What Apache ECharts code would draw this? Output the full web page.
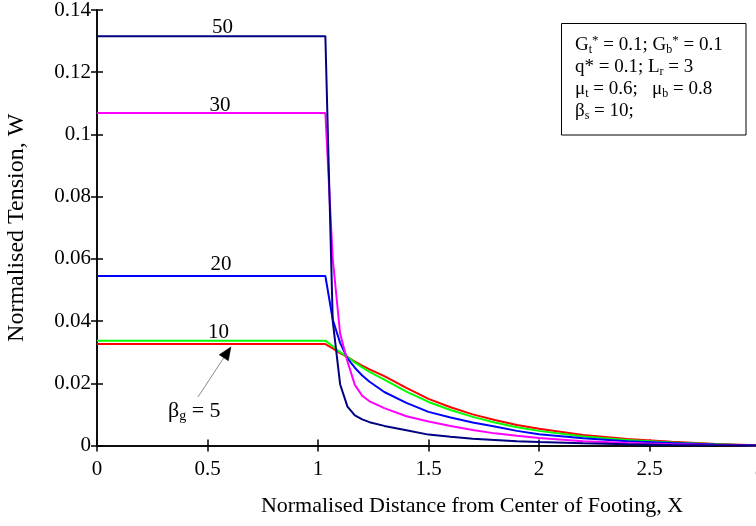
<!DOCTYPE html>
<html>
<head>
<meta charset="utf-8">
<script src="https://cdn.jsdelivr.net/npm/echarts@6/dist/echarts.min.js"></script>
<style>
  html, body { margin: 0; padding: 0; background: #fff; }
  #chart { width: 756px; height: 526px; }
</style>
</head>
<body>
<div id="chart"></div>
<script>
// Normalised distance X at which tension W is sampled (shared by every curve)
const distanceX = [0, 1.0333, 1.0667, 1.1, 1.1333, 1.1667, 1.2, 1.2333, 1.3, 1.4, 1.5,
                   1.6, 1.7, 1.8, 1.9, 2.0, 2.2, 2.4, 2.6, 2.8, 3.0];

// Normalised tension W for each geosynthetic stiffness beta_g
const tensionBeta5  = [0.0326, 0.0326, 0.0312, 0.0297, 0.0284, 0.0270, 0.0257, 0.0245, 0.0223, 0.0185, 0.0150,
                       0.0123, 0.0100, 0.0082, 0.0066, 0.0054, 0.0034, 0.0021, 0.0012, 0.0005, 0];
const tensionBeta10 = [0.0337, 0.0337, 0.0319, 0.0300, 0.0284, 0.0267, 0.0251, 0.0237, 0.0212, 0.0173, 0.0140,
                       0.0114, 0.0092, 0.0074, 0.0059, 0.0047, 0.0029, 0.0018, 0.0010, 0.0004, 0];
const tensionBeta20 = [0.0545, 0.0545, 0.0405, 0.0330, 0.0280, 0.0250, 0.0225, 0.0205, 0.0172, 0.0137, 0.0108,
                       0.0090, 0.0074, 0.0061, 0.0047, 0.0036, 0.0023, 0.0014, 0.0008, 0.0003, 0];
const tensionBeta30 = [0.1069, 0.1069, 0.0600, 0.0360, 0.0270, 0.0195, 0.0160, 0.0142, 0.0120, 0.0094, 0.0077,
                       0.0063, 0.0050, 0.0039, 0.0031, 0.0024, 0.0014, 0.0008, 0.0004, 0.0002, 0];
const tensionBeta50 = [0.1316, 0.1316, 0.0400, 0.0197, 0.0125, 0.0097, 0.0084, 0.0075, 0.0063, 0.0049, 0.0035,
                       0.0028, 0.0022, 0.0018, 0.0014, 0.0011, 0.0007, 0.0004, 0.0002, 0.0001, 0];

const betaNames  = ['5', '10', '20', '30', '50'];
const curveColors = ['#ff0000', '#00ff00', '#0000ff', '#ff00ff', '#000080'];

// Axis ranges and tick steps
const xRange = [0, 3], xStep = 0.5;
const yRange = [0, 0.14], yStep = 0.02;

// Curve tags placed in data space: [text, X, W]
const curveTags = [
  ['50', 0.568, 0.1344],
  ['30', 0.557, 0.1094],
  ['20', 0.561, 0.0583],
  ['10', 0.550, 0.0362]
];
const betaTagAt = [0.321, 0.0111];
const arrowFrom = [0.457, 0.0156];
const arrowTo   = [0.606, 0.0317];

const serif = "'Liberation Serif', 'Times New Roman', serif";
const black = '#000';

const tensionSets = [tensionBeta5, tensionBeta10, tensionBeta20, tensionBeta30, tensionBeta50];

const chart = echarts.init(document.getElementById('chart'), null, { renderer: 'canvas' });

const axisLine = { show: true, lineStyle: { color: black, width: 1.5 } };
const axisTick = { show: true, inside: true, length: 6, lineStyle: { color: black, width: 1.5 } };

const series = tensionSets.map((w, k) => ({
  name: 'beta_g = ' + betaNames[k],
  type: 'line',
  xAxisIndex: 0,
  yAxisIndex: 0,
  showSymbol: false,
  symbol: 'none',
  animation: false,
  lineStyle: { color: curveColors[k], width: 2 },
  itemStyle: { color: curveColors[k] },
  data: distanceX.map((x, i) => [x, w[i]])
}));

chart.setOption({
  animation: false,
  backgroundColor: '#fff',
  grid: { left: 97, top: 10, right: -4, bottom: 80.5, containLabel: false, outerBoundsMode: 'none' },
  xAxis: [
    {
      type: 'value', position: 'bottom', min: xRange[0], max: xRange[1], interval: xStep,
      axisLine, axisTick, splitLine: { show: false },
      axisLabel: { color: black, fontSize: 21, fontFamily: serif, margin: 13, showMaxLabel: true, showMinLabel: true },
      name: 'Normalised Distance from Center of Footing, X',
      nameLocation: 'middle', nameGap: 50,
      nameTextStyle: { color: black, fontSize: 22, fontFamily: serif, padding: [0, 0, 0, 87] }
    },
    {
      type: 'value', position: 'top', min: xRange[0], max: xRange[1], interval: xStep,
      axisLine, axisTick, splitLine: { show: false }, axisLabel: { show: false }
    }
  ],
  yAxis: [
    {
      type: 'value', position: 'left', min: yRange[0], max: yRange[1], interval: yStep,
      axisLine, axisTick, splitLine: { show: false },
      axisLabel: {
        color: black, fontSize: 21, fontFamily: serif, margin: 6,
        formatter: v => String(+v.toFixed(2))
      },
      name: 'Normalised Tension, W',
      nameLocation: 'middle', nameGap: 68, nameRotate: 90,
      nameTextStyle: { color: black, fontSize: 24, fontFamily: serif }
    },
    {
      type: 'value', position: 'right', min: yRange[0], max: yRange[1], interval: yStep,
      axisLine, axisTick, splitLine: { show: false }, axisLabel: { show: false }
    }
  ],
  series
});

// Parameter box and curve annotations
const px = p => chart.convertToPixel({ xAxisIndex: 0, yAxisIndex: 0 }, p);

const richBox = {
  n:  { fontSize: 19, fontFamily: serif, lineHeight: 22, color: black },
  sb: { fontSize: 12, fontFamily: serif, lineHeight: 11, verticalAlign: 'bottom', color: black },
  sp: { fontSize: 13, fontFamily: serif, lineHeight: 11, verticalAlign: 'top', color: black }
};

const graphics = [
  {
    type: 'rect', id: 'paramBox', z: 10,
    shape: { x: 561.5, y: 23.5, width: 184.5, height: 111.5 },
    style: { fill: '#fff', stroke: black, lineWidth: 1 }
  },
  {
    type: 'text', id: 'paramText', z: 11, x: 575, y: 34,
    style: {
      text: '{n|G}{sb|t}{sp|*}{n| = 0.1; G}{sb|b}{sp|*}{n| = 0.1}\n' +
            '{n|q* = 0.1; L}{sb|r}{n| = 3}\n' +
            '{n|\u03bc}{sb|t}{n| = 0.6;   \u03bc}{sb|b}{n| = 0.8}\n' +
            '{n|\u03b2}{sb|s}{n| = 10;}',
      rich: richBox, fill: black, align: 'left', verticalAlign: 'top'
    }
  }
];

curveTags.forEach((t, i) => {
  const p = px([t[1], t[2]]);
  graphics.push({
    type: 'text', id: 'tag' + i, z: 12, x: p[0], y: p[1],
    style: { text: t[0], fill: black, fontSize: 21, fontFamily: serif, align: 'center', verticalAlign: 'middle' }
  });
});

const bt = px(betaTagAt);
graphics.push({
  type: 'text', id: 'betaTag', z: 12, x: bt[0], y: bt[1],
  style: {
    text: '{n|\u03b2}{sb|g}{n| = 5}',
    rich: {
      n:  { fontSize: 22, fontFamily: serif, lineHeight: 24, color: black },
      sb: { fontSize: 14, fontFamily: serif, lineHeight: 12, verticalAlign: 'bottom', color: black }
    },
    align: 'left', verticalAlign: 'middle'
  }
});

// Pointer from the beta_g tag to the lowest curve
const a0 = px(arrowFrom), a1 = px(arrowTo);
const dx = a1[0] - a0[0], dy = a1[1] - a0[1];
const len = Math.hypot(dx, dy);
const ux = dx / len, uy = dy / len;
const headLen = 13, headHalf = 5.5;
const bx = a1[0] - headLen * ux, by = a1[1] - headLen * uy;
graphics.push({
  type: 'line', id: 'arrowShaft', z: 12,
  shape: { x1: a0[0], y1: a0[1], x2: bx, y2: by },
  style: { stroke: '#8c8c8c', lineWidth: 1 }
});
graphics.push({
  type: 'polygon', id: 'arrowHead', z: 12,
  shape: { points: [[a1[0], a1[1]], [bx - headHalf * uy, by + headHalf * ux], [bx + headHalf * uy, by - headHalf * ux]] },
  style: { fill: black, stroke: black, lineWidth: 0.5 }
});

chart.setOption({ graphic: graphics });
</script>
</body>
</html>
